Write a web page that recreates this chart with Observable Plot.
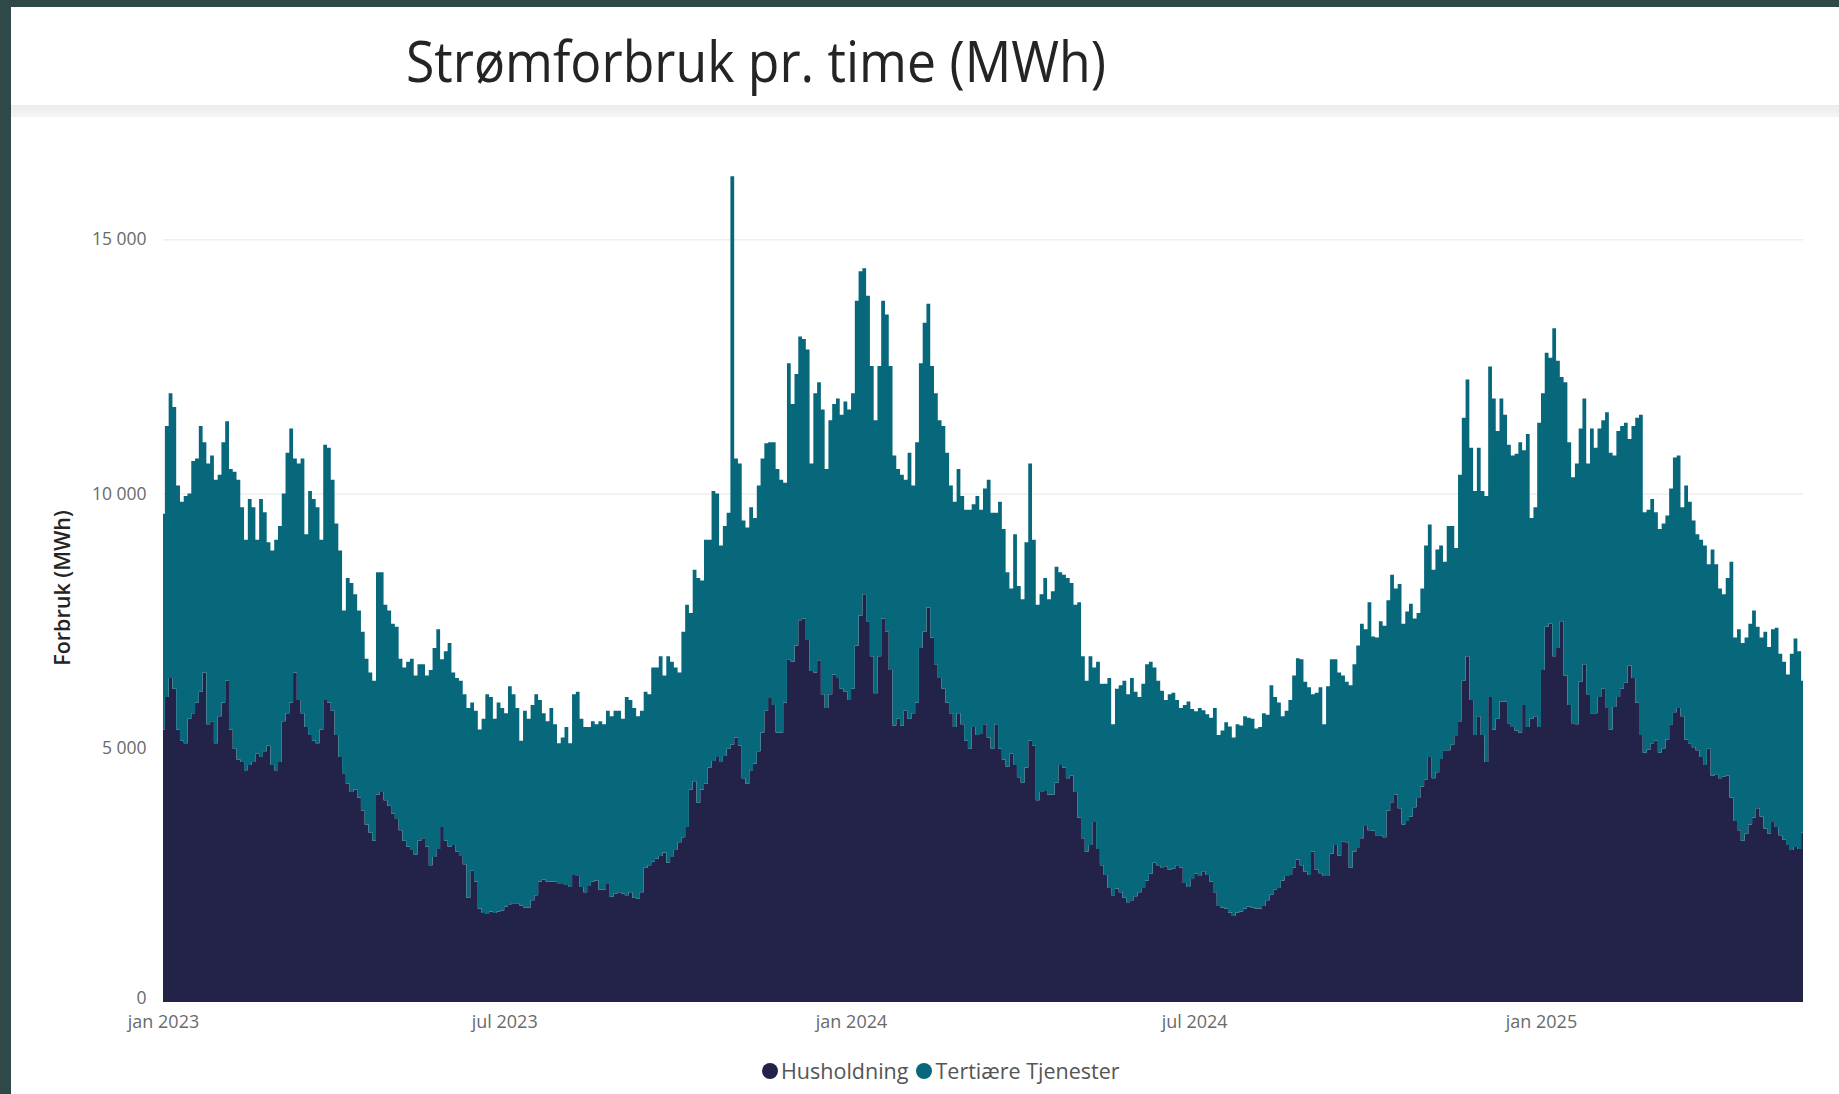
<!DOCTYPE html>
<html><head><meta charset="utf-8">
<script src="https://cdn.jsdelivr.net/npm/d3@7"></script>
<script src="https://cdn.jsdelivr.net/npm/@observablehq/plot@0.6"></script>
<style>
html,body{margin:0;padding:0;width:1839px;height:1094px;overflow:hidden;background:#2f4848;font-family:"Open Sans",sans-serif;}
#titleCard{position:absolute;left:11px;top:7px;width:1828px;height:98px;background:#fff;}
#sep{position:absolute;left:11px;top:105px;width:1828px;height:12px;background:linear-gradient(#ececec,#f5f5f5);}
#chartCard{position:absolute;left:11px;top:117px;width:1828px;height:977px;background:#fff;}
#chart{position:absolute;left:0;top:0;}
#titleSvg{position:absolute;left:0;top:0;}
#ylabel{position:absolute;left:61px;top:588px;transform:translate(-50%,-50%) rotate(-90deg);font-size:21.5px;color:#252423;white-space:nowrap;font-weight:600;}
#legend{position:absolute;top:1056px;left:762px;font-size:21.5px;color:#555;display:flex;align-items:center;white-space:nowrap;}
.dot{display:inline-block;width:16px;height:16px;border-radius:50%;margin-right:3px;}
.item{display:flex;align-items:center;margin-right:8px;}
</style></head><body>
<div id="titleCard"></div><div id="sep"></div><div id="chartCard"></div>
<svg id="titleSvg" width="1839" height="110"><text x="406" y="82" font-family="Open Sans" font-size="57" fill="#252423" textLength="700" lengthAdjust="spacingAndGlyphs">Strømforbruk pr. time (MWh)</text></svg>
<div id="chart"></div>
<div id="ylabel">Forbruk (MWh)</div>
<div id="legend"></div>
<script>
// ---- data (one sample every 2 days from 2023-01-01) ----
const startDate = "2023-01-01";
const stepDays = 2;
const seriesNames = ["Husholdning", "Tertiære Tjenester"];
const seriesColors = ["#232249", "#07687c"];
const husholdning = [
5360,6000,6370,6160,5360,5140,5090,5570,5680,5890,
6100,6480,5460,5520,5090,5620,5890,6320,5360,4980,
4770,4720,4560,4660,4720,4880,4820,4930,5040,4660,
4560,4720,5520,5680,5890,6480,5940,5680,5410,5250,
5140,5090,5360,5940,5890,5730,5250,4820,4500,4290,
4130,4180,4020,3760,3490,3330,3170,4080,4130,3970,
3860,3700,3600,3380,3170,3060,2990,2900,3170,3220,
3060,2690,2850,3010,3440,3170,3060,3090,2960,2870,
2710,2050,2580,2370,1840,1750,1730,1780,1750,1780,
1800,1880,1920,1940,1940,1900,1860,1860,2000,2100,
2370,2410,2370,2370,2370,2320,2320,2300,2260,2500,
2480,2260,2160,2280,2370,2390,2210,2210,2320,2070,
2130,2160,2130,2100,2160,2050,2030,2160,2640,2690,
2760,2820,2870,2940,2740,2850,2990,3140,3240,3440,
4180,4340,3920,4180,4290,4610,4740,4820,4720,4840,
4980,5060,5200,5040,4400,4290,4560,4690,4930,5300,
5730,5980,5840,5300,5300,5890,6740,6690,7010,7510,
7540,7120,6510,6480,6720,6050,5780,6050,6440,6370,
6160,6100,5940,6160,7010,7600,8020,7490,6800,6070,
6800,7540,7280,6530,5440,5570,5440,5730,5570,5680,
5890,6960,7280,7760,7170,6640,6370,6160,5890,5680,
5410,5680,5460,5140,4980,5410,5250,5270,5460,5200,
4980,5460,4980,4770,4630,4880,4660,4420,4310,4610,
5140,5040,3970,4130,4150,4080,4080,4310,4660,4610,
4400,4450,4130,3630,3220,2960,3090,3540,3010,2690,
2500,2240,2100,2230,2160,2050,1960,2000,2080,2160,
2240,2390,2520,2740,2690,2650,2670,2600,2620,2690,
2640,2340,2260,2420,2520,2480,2570,2500,2370,2160,
1890,1860,1840,1760,1690,1760,1780,1840,1880,1860,
1840,1840,1890,2000,2110,2210,2240,2390,2480,2500,
2640,2800,2690,2560,2500,2960,2600,2530,2480,2480,
2920,3090,2880,3160,3140,2640,2960,3030,3220,3460,
3380,3370,3280,3280,3240,3760,3930,4080,3810,3490,
3560,3650,3830,4010,4240,4370,4820,4400,4520,4780,
4950,4950,5060,5230,5520,6320,6800,5940,5250,5620,
5250,4720,6000,5360,5570,5910,5910,5480,5410,5340,
5300,5840,5410,5570,5620,5410,6530,7380,7440,6800,
6960,7490,6420,5840,5480,5460,6300,6640,6050,5680,
5680,6000,6160,5780,5360,5800,6000,6160,6280,6620,
6370,5890,5250,4900,4960,5090,5140,4900,4980,5160,
5460,5700,5780,5620,5160,5090,5010,4950,4820,4660,
4980,4450,4480,4400,4430,4450,4020,3560,3380,3170,
3310,3490,3630,3810,3650,3410,3310,3540,3440,3280,
3190,3090,2990,3050,3010,3330];
const tertiaere = [
4240,5330,5600,5540,4800,4700,4860,4430,4960,4800,
5230,4530,5130,5230,5180,4750,5120,5100,5120,5450,
5500,5010,4530,5230,5010,4210,5070,4700,4000,4220,
4530,4640,4480,5120,5390,4210,4650,5010,3790,4800,
4750,4640,3730,5020,5010,4540,4160,4060,3200,4050,
4110,3840,3680,3520,3260,3150,3150,4370,4320,3840,
3840,3740,3780,3370,3410,3630,3760,3520,3470,3420,
3360,3840,4110,4320,3300,3730,4000,3390,3410,3450,
3340,3730,3310,3360,3520,3820,4320,4220,3820,4110,
3980,3800,4290,4110,3840,3240,3870,3710,3840,3950,
3570,3270,3150,3410,3090,2770,2880,3110,2830,3550,
3620,3310,3250,3130,3150,3070,3310,3250,3410,3550,
3600,3570,3440,3900,3780,3730,3590,3570,3460,3360,
3820,3760,3930,3480,4060,3840,3590,3340,4040,4370,
3470,4160,4420,4110,4800,4480,5310,5180,4260,4520,
4640,11180,5490,5550,5070,5040,5170,4830,5230,5390,
5260,5030,5170,5180,4970,4320,5820,5070,5340,5580,
5500,5710,4080,5490,5470,5600,4700,5390,5320,5500,
5390,5710,5710,5810,6780,6770,6410,6400,5710,5370,
5710,6250,6240,5980,5310,4910,4930,4540,5230,4480,
5120,5600,6080,5970,5340,5330,5070,5170,4910,4480,
4430,4800,4490,4540,4700,4380,4700,4410,4640,5070,
4640,4160,4860,4530,3820,3250,4540,3760,3610,4430,
5450,4050,3840,3890,4190,3840,4000,4250,3790,3790,
3940,3790,3680,4230,3580,3360,3710,3040,3680,3570,
3760,4130,3360,3930,4070,4270,4090,4370,4020,3840,
4020,4250,4170,3840,3630,3470,3270,3450,3460,3250,
3140,3500,3650,3340,3200,3300,3170,3160,3220,3620,
3360,3480,3660,3660,3510,3700,3660,3780,3710,3710,
3540,3570,3790,3650,4120,3790,3650,3230,3250,3440,
3780,3960,4050,3740,3690,3090,3480,3660,2980,3730,
3820,3650,3600,3260,3160,3590,3680,3980,4220,3870,
4480,3820,3890,4210,4160,4140,4470,4050,4410,3950,
4120,4180,3710,3640,3890,4610,4570,4100,4380,4200,
3710,4410,4300,3700,4850,5170,5440,4960,4800,5280,
4800,5230,6500,6510,5660,5960,5640,5480,5340,5440,
5710,5010,5760,3950,4110,5980,5440,5390,5230,6450,
5650,4800,5770,5170,4840,5130,4980,5230,4540,5600,
5220,5280,5280,5820,5440,4950,5230,5170,5110,4450,
4960,5600,6300,4730,4720,4800,4490,4400,4430,4410,
4640,5010,4970,4110,5000,4750,4460,4250,4270,4320,
3630,4450,4130,3730,3590,3890,4640,3610,3950,3890,
3860,3950,4070,3570,3520,3870,3670,3790,3920,3570,
3500,3350,3860,4100,3890,2990];
const xTickDates = ["2023-01-01","2023-07-01","2024-01-01","2024-07-01","2025-01-01"];
const xTickLabels = ["jan 2023","jul 2023","jan 2024","jul 2024","jan 2025"];
const yTicks = [0, 5000, 10000, 15000];
const yTickLabels = ["0", "5 000", "10 000", "15 000"];

// ---- build ----
const parse = d3.timeParse("%Y-%m-%d");
const start = parse(startDate);
const dates = husholdning.map((_, i) => d3.timeDay.offset(start, i * stepDays));
const seriesValues = [husholdning, tertiaere];
const rows = [];
seriesNames.forEach((s, si) => seriesValues[si].forEach((v, i) => rows.push({date: dates[i], series: s, value: v})));
const xTicks = xTickDates.map(parse);
const yFmt = d => yTickLabels[yTicks.indexOf(d)];

const chart = Plot.plot({
  width: 1839, height: 1094,
  marginLeft: 163, marginRight: 36, marginTop: 163, marginBottom: 92,
  style: {background: "transparent", fontFamily: "Open Sans, sans-serif", fontSize: "17px", color: "#6a6a6a"},
  x: {type: "time", domain: [dates[0], dates[dates.length - 1]]},
  y: {domain: [0, 16500]},
  color: {domain: seriesNames, range: seriesColors},
  marks: [
    Plot.ruleY(yTicks.slice(1), {stroke: "#eeeeee", strokeWidth: 1.5}),
    Plot.areaY(rows, Plot.stackY({x: "date", y: "value", fill: "series", order: seriesNames, curve: "step"})),
    Plot.axisY({ticks: yTicks.slice(1), tickFormat: yFmt, tickSize: 0, tickPadding: 17, label: null, fontSize: 17.5}),
    Plot.axisY({ticks: [yTicks[0]], tickFormat: yFmt, tickSize: 0, tickPadding: 17, label: null, fontSize: 17.5, dy: -4}),
    Plot.axisX({ticks: xTicks, tickFormat: d => xTickLabels[xTicks.findIndex(t => +t === +d)], tickSize: 0, tickPadding: 13, label: null, fontSize: 18})
  ]
});
document.getElementById("chart").appendChild(chart);

const legend = document.getElementById("legend");
seriesNames.forEach((s, i) => {
  const item = document.createElement("div");
  item.className = "item";
  item.innerHTML = `<span class="dot" style="background:${seriesColors[i]}"></span><span>${s}</span>`;
  legend.appendChild(item);
});
</script>
</body></html>
